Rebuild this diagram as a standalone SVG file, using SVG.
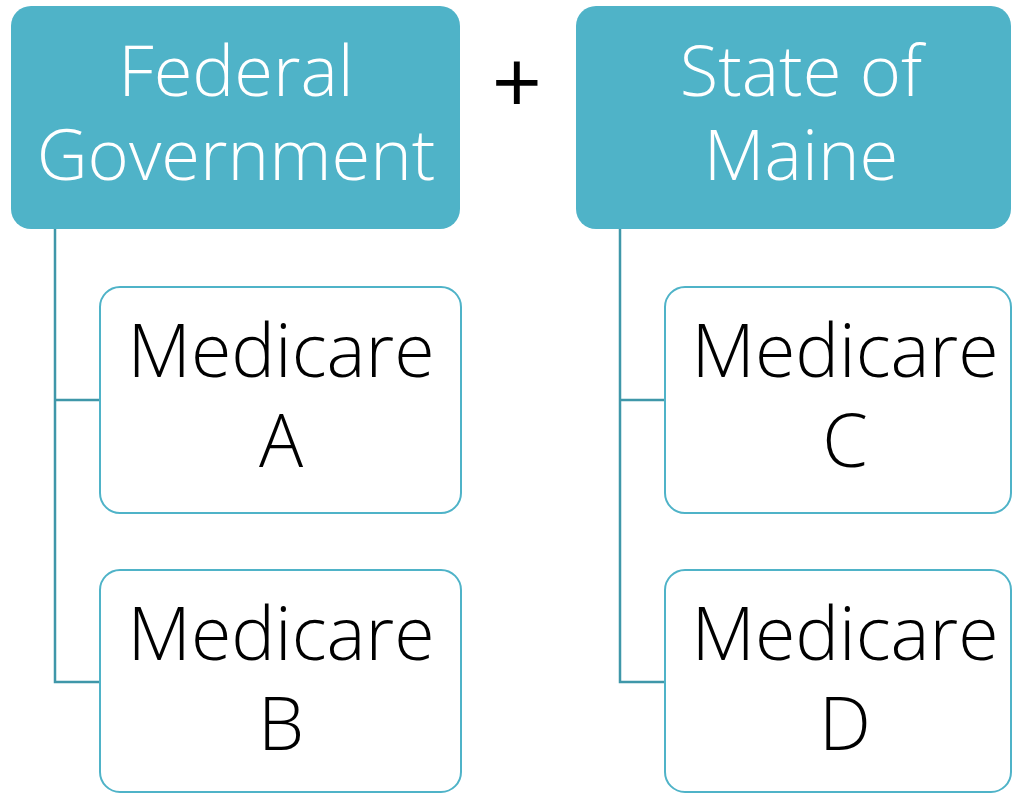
<svg xmlns="http://www.w3.org/2000/svg" width="1012" height="793" viewBox="0 0 1012 793">
<style>
  .hdr { fill: #4FB3C8; }
  .child { fill: #FFFFFF; stroke: #4FB3C8; stroke-width: 2; }
  .conn { fill: none; stroke: #3F97A9; stroke-width: 2.5; }
  .ht { font-family: "Open Sans", "Liberation Sans", sans-serif; font-weight: 300; font-size: 70.5px; fill: #FFFFFF; text-anchor: middle; }
  .ct { font-family: "Open Sans", "Liberation Sans", sans-serif; font-weight: 300; font-size: 73.5px; fill: #000000; text-anchor: middle; }
  .plus { font-family: "Open Sans", "Liberation Sans", sans-serif; font-weight: 400; font-size: 88px; fill: #000000; text-anchor: middle; }
</style>
<rect width="1012" height="793" fill="#FFFFFF"/>
<g id="connectors">
  <path class="conn" d="M55 229 V682 H100 M55 400 H100"/>
  <path class="conn" d="M620 229 V682 H665 M620 400 H665"/>
</g>
<g id="federal">
  <rect class="hdr" x="11" y="6" width="449" height="223" rx="20" ry="20"/>
  <text class="ht" x="236" y="96">Federal</text>
  <text class="ht" x="236" y="180">Government</text>
</g>
<g id="plus">
  <text class="plus" x="517" y="114">+</text>
</g>
<g id="maine">
  <rect class="hdr" x="576" y="6" width="435" height="223" rx="20" ry="20"/>
  <text class="ht" x="801" y="96">State of</text>
  <text class="ht" x="801" y="180">Maine</text>
</g>
<g id="medicareA">
  <rect class="child" x="100" y="287" width="361" height="226" rx="20" ry="20"/>
  <text class="ct" x="281" y="377">Medicare</text>
  <text class="ct" x="281" y="467">A</text>
</g>
<g id="medicareB">
  <rect class="child" x="100" y="570" width="361" height="222" rx="20" ry="20"/>
  <text class="ct" x="281" y="660">Medicare</text>
  <text class="ct" x="281" y="750">B</text>
</g>
<g id="medicareC">
  <rect class="child" x="665" y="287" width="346" height="226" rx="20" ry="20"/>
  <text class="ct" x="845" y="377">Medicare</text>
  <text class="ct" x="845" y="467">C</text>
</g>
<g id="medicareD">
  <rect class="child" x="665" y="570" width="346" height="222" rx="20" ry="20"/>
  <text class="ct" x="845" y="660">Medicare</text>
  <text class="ct" x="845" y="750">D</text>
</g>
</svg>
